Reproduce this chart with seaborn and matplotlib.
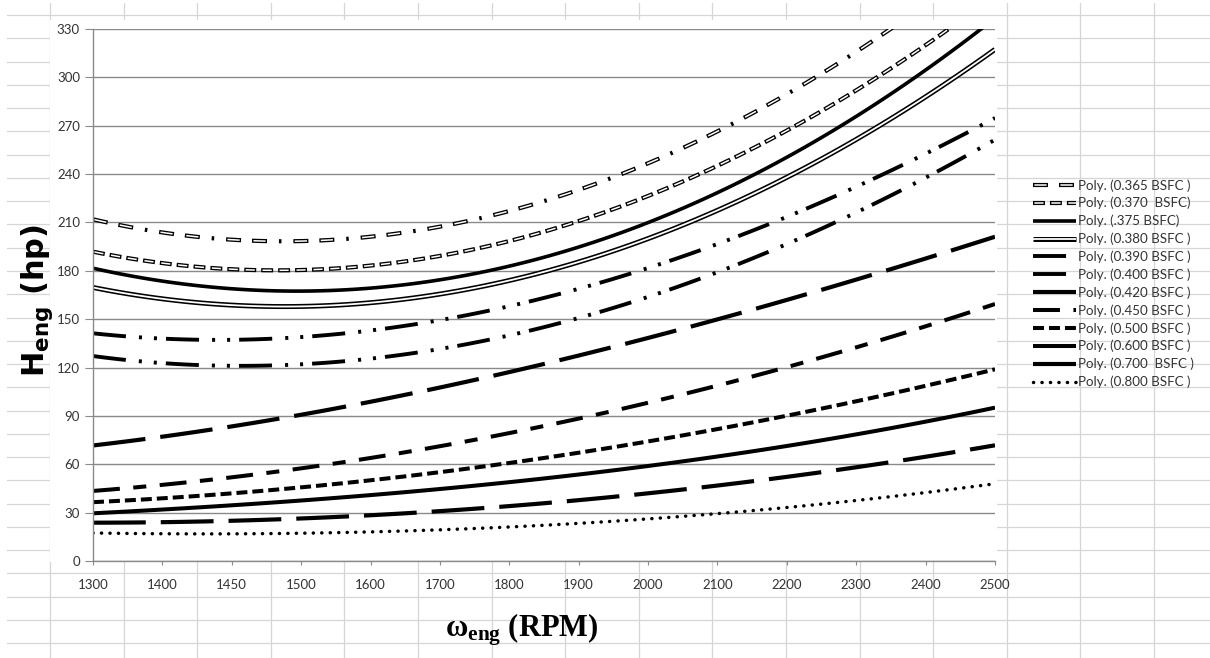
import numpy as np
import pandas as pd
import matplotlib
matplotlib.use("Agg")
import matplotlib.pyplot as plt
import seaborn as sns
from matplotlib.lines import Line2D
from matplotlib.patches import Rectangle
from matplotlib.legend_handler import HandlerTuple

# ---------------- data ----------------
rpm_labels = ["1300", "1400", "1450", "1500", "1600", "1700", "1800",
              "1900", "2000", "2100", "2200", "2300", "2400", "2500"]

series_labels = ["Poly. (0.365 BSFC )", "Poly. (0.370  BSFC)", "Poly. (.375 BSFC)",
                 "Poly. (0.380 BSFC )", "Poly. (0.390 BSFC )", "Poly. (0.400 BSFC )",
                 "Poly. (0.420 BSFC )", "Poly. (0.450 BSFC )", "Poly. (0.500 BSFC )",
                 "Poly. (0.600 BSFC )", "Poly. (0.700  BSFC )", "Poly. (0.800 BSFC )"]

h_0365 = [211.5, 204, 199.7, 199, 201, 207, 217, 230, 246.7, 266.3, 289, 317, 346, 377]
h_0370 = [191.5, 184.7, 181.5, 181, 183.6, 188.8, 198, 211, 226, 244.6, 267, 293, 321, 350]
h_0375 = [181, 173.3, 169.5, 168, 170.5, 175.5, 182, 193, 207, 228, 253, 278, 305, 335]
h_0380 = [169, 163, 159.4, 158.2, 160.8, 165, 172, 186.3, 200.2, 217.7, 238, 262, 288, 317]
h_0390 = [140.2, 139, 138, 138.5, 143.3, 149.5, 157.4, 167.7, 181.5, 197, 214.5, 233.5, 251, 275]
h_0400 = [126.3, 123, 122, 122.5, 126.3, 131, 139, 149.5, 163, 180, 198, 217, 237, 261]
h_0420 = [71, 77, 84.4, 91.6, 98.8, 108, 116.4, 126.4, 137, 150, 163, 176, 188, 200]
h_0450 = [43.6, 47, 51.7, 57.5, 64.5, 71.5, 79.2, 87.9, 97.8, 109, 120, 133, 146, 159]
h_0500 = [36.2, 39, 42.5, 45.5, 50, 55.4, 60.6, 66.8, 74, 82, 90, 99.5, 109, 118.5]
h_0600 = [29.6, 32, 34.7, 37.5, 40.5, 44, 49, 54.4, 59.5, 65, 71, 78, 86, 95.7]
h_0700 = [23.8, 24, 25, 26.5, 28.5, 30.6, 33.7, 37.8, 42.5, 47.5, 51.5, 58, 64.5, 72]
h_0800 = [17.6, 16.8, 16.7, 17, 18.2, 19.2, 21.3, 23.4, 26.5, 29.5, 33, 37, 42.5, 48.2]

all_series = [h_0365, h_0370, h_0375, h_0380, h_0390, h_0400,
              h_0420, h_0450, h_0500, h_0600, h_0700, h_0800]

y_ticks = list(range(0, 331, 30))

# ---------------- styles ----------------
sns.set_theme(style="white")
plt.rcParams["font.family"] = ["Lato", "DejaVu Sans"]
plt.rcParams["lines.scale_dashes"] = False
plt.rcParams["mathtext.fontset"] = "custom"
plt.rcParams["mathtext.bf"] = "Liberation Serif:bold"
plt.rcParams["mathtext.sf"] = "DejaVu Sans:bold"
plt.rcParams["mathtext.rm"] = "DejaVu Sans"
plt.rcParams["mathtext.it"] = "DejaVu Sans:italic"


def hollow(pattern, inset):
    """outer pattern (list of on/off, pts) -> matching inner pattern inset at both ends"""
    inner = []
    for i in range(0, len(pattern), 2):
        on, off = pattern[i], pattern[i + 1]
        if on > 3 * inset:
            inner += [on - 2 * inset, off + 2 * inset]
        else:
            inner += [0.0, on + off]
    merged = []
    i = 0
    while i < len(inner):
        on, off = inner[i], inner[i + 1]
        if on == 0.0 and merged:
            merged[-1] += off
        else:
            merged += [on, off]
        i += 2
    total = sum(pattern)
    return (total - inset, tuple(merged))


p365 = [10.8, 7.9, 10.8, 8.6, 1.8, 8.6]
p370 = [8.6, 3.6]
p390 = [23.8, 9.4, 2.2, 8.6, 2.2, 6.5]
styles = [
    dict(lw=3.0, ls=(0, tuple(p365)), inner=dict(lw=1.1, ls=hollow(p365, 1.0))),
    dict(lw=3.0, ls=(0, tuple(p370)), inner=dict(lw=1.1, ls=hollow(p370, 1.0))),
    dict(lw=2.6, ls="-"),
    dict(lw=3.6, ls="-", inner=dict(lw=1.3, ls="-")),
    dict(lw=2.8, ls=(0, tuple(p390))),
    dict(lw=2.8, ls=(0, tuple(p390))),
    dict(lw=3.0, ls=(0, (38.0, 10.8))),
    dict(lw=2.9, ls=(0, (19.4, 9.7, 9.4, 9.7))),
    dict(lw=2.9, ls=(0, (7.9, 3.6))),
    dict(lw=2.9, ls="-"),
    dict(lw=3.0, ls=(0, (38.0, 10.8))),
    dict(lw=2.5, ls=(0, (0.1, 6.0)), cap="round"),
]

W, H = 1210, 658
fig = plt.figure(figsize=(W / 100, H / 100), dpi=100)
fig.patch.set_facecolor("white")


def fx(px):
    return px / W


def fy(py):
    return 1 - py / H


# spreadsheet cell grid behind the chart
grid_c = "#d6d6d6"
for k in range(16):
    x = 50 + 73.6 * k
    fig.add_artist(Line2D([fx(x), fx(x)], [fy(3), 0], transform=fig.transFigure,
                          color=grid_c, lw=0.9, zorder=-3))
for k in range(28):
    y = 15 + 23.27 * k
    fig.add_artist(Line2D([fx(7), 1], [fy(y), fy(y)], transform=fig.transFigure,
                          color=grid_c, lw=0.9, zorder=-3))
fig.add_artist(Rectangle((fx(50), fy(562)), fx(997) - fx(50), fy(20) - fy(562),
                         transform=fig.transFigure, facecolor="white",
                         edgecolor="none", zorder=-2))

ax = fig.add_axes([fx(93), fy(561), fx(995) - fx(93), fy(29) - fy(561)])
ax.set_facecolor("white")

x_idx = np.arange(len(rpm_labels))
handles = []
for label, vals, st in zip(series_labels, all_series, styles):
    df = pd.DataFrame({"rpm_idx": x_idx, "hp": vals})
    kws = dict(color="black", lw=st["lw"], linestyle=st["ls"],
               dash_capstyle=st.get("cap", "butt"), solid_capstyle="butt")
    sns.regplot(data=df, x="rpm_idx", y="hp", order=3, ci=None, scatter=False,
                ax=ax, line_kws=kws)
    outer = ax.lines[-1]
    if "inner" in st:
        ikws = dict(color="white", lw=st["inner"]["lw"], linestyle=st["inner"]["ls"],
                    dash_capstyle="butt", solid_capstyle="butt")
        sns.regplot(data=df, x="rpm_idx", y="hp", order=3, ci=None, scatter=False,
                    ax=ax, line_kws=ikws)
        inner = ax.lines[-1]
        handles.append((outer, inner))
    else:
        handles.append(outer)

ax.set_xlim(0, len(rpm_labels) - 1)
ax.set_ylim(0, 330)
ax.set_xticks(x_idx)
ax.set_xticklabels(rpm_labels)
ax.set_yticks(y_ticks)
ax.set_xlabel("")
ax.set_ylabel("")
ax.set_axisbelow(True)
ax.grid(axis="y", color="#8a8a8a", lw=1.0)
ax.grid(axis="x", visible=False)
for side in ["top", "right"]:
    ax.spines[side].set_visible(False)
for side in ["left", "bottom"]:
    ax.spines[side].set_visible(True)
    ax.spines[side].set_color("#8a8a8a")
    ax.spines[side].set_linewidth(1.0)
ax.tick_params(axis="y", left=True, direction="out", length=5.8, width=0.8,
               color="#8a8a8a", pad=3.6, labelsize=9.5, labelcolor="#333333")
ax.tick_params(axis="x", bottom=True, direction="out", length=3, width=0.8,
               color="#8a8a8a", pad=10, labelsize=9.5, labelcolor="#333333")

fig.text(fx(37), fy(300), r"$\mathsf{H_{eng}}$ (hp)", rotation=90, ha="center",
         va="center", fontsize=22, fontweight="bold", family="DejaVu Sans", color="black")
fig.text(fx(522), fy(630), r"$\mathbf{ω_{eng}}$ (RPM)", ha="center", va="center",
         fontsize=22, fontweight="bold", family="Liberation Serif", color="black")

leg = fig.legend(handles, series_labels, loc="upper left",
                 bbox_to_anchor=(fx(1033), fy(179)), frameon=False, fontsize=9.6,
                 handlelength=3.2, handletextpad=0.2, labelspacing=0.4,
                 borderpad=0, borderaxespad=0,
                 handler_map={tuple: HandlerTuple(ndivide=1, pad=0)})
for t in leg.get_texts():
    t.set_color("#333333")

fig.savefig("out.png", dpi=100, facecolor="white")
